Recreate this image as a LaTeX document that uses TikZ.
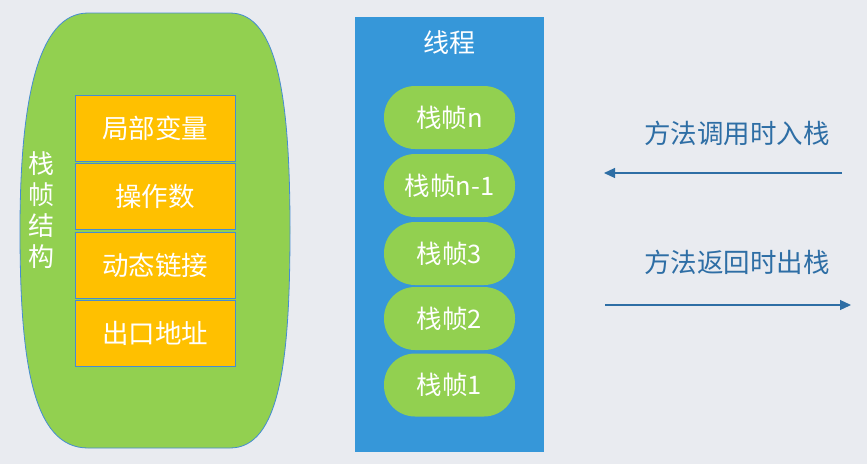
\documentclass[tikz,border=0pt]{standalone}
\usepackage{fontspec}
\newfontfamily\cjk{Noto Sans CJK SC}
\usetikzlibrary{arrows.meta}
\definecolor{bgc}{RGB}{233,235,240}
\definecolor{leafgreen}{RGB}{146,208,80}
\definecolor{boxorange}{RGB}{255,192,0}
\definecolor{threadblue}{RGB}{54,151,217}
\definecolor{edgeblue}{RGB}{70,140,210}
\definecolor{arrowblue}{RGB}{46,110,165}
\tikzset{
  cell/.style={draw=edgeblue, line width=0.8pt, fill=boxorange, minimum width=160pt, minimum height=66pt, inner sep=0pt, text=white, font=\cjk\fontsize{26.5}{30}\selectfont},
  pill/.style={fill=leafgreen, rounded corners=31pt, minimum width=131pt, minimum height=63pt, inner sep=0pt, text=white, font=\cjk\fontsize{25.5}{30}\selectfont},
  note/.style={text=arrowblue, font=\cjk\fontsize{26.5}{30}\selectfont, inner sep=0pt},
  flow/.style={draw=arrowblue, line width=1.1pt, -{Triangle[length=11pt,width=10pt]}}
}
\begin{document}
\begin{tikzpicture}[x=1pt,y=-1pt]
\useasboundingbox (0,0) rectangle (867,464);
\fill[bgc] (0,0) rectangle (867,464);
% frame blob
\draw[edgeblue, line width=0.8pt, fill=leafgreen]
  (88,13) -- (230,13) .. controls (278,13) and (290,100) .. (290,230)
  .. controls (290,360) and (280,448) .. (230,448) -- (88,448)
  .. controls (32,448) and (20,360) .. (20,230)
  .. controls (20,100) and (38,13) .. (88,13) -- cycle;
\node[text=white, font=\cjk\fontsize{26}{31}\selectfont, align=center, inner sep=0pt] (title) at (41,210) {栈\\帧\\结\\构};
\node[cell] (c1) at (155,128) {局部变量};
\node[cell] (c2) at (155,196) {操作数};
\node[cell] (c3) at (155,265) {动态链接};
\node[cell] (c4) at (155,333) {出口地址};
% thread
\node[fill=threadblue, minimum width=189pt, minimum height=435pt, inner sep=0pt] (thread) at (449.5,234.5) {};
\node[text=white, font=\cjk\fontsize{26}{30}\selectfont, inner sep=0pt] (tlabel) at (449.5,43) {线程};
\node[pill] (p1) at (449.5,117.5) {栈帧n};
\node[pill] (p2) at (449.5,185.5) {栈帧n-1};
\node[pill] (p3) at (449.5,253.5) {栈帧3};
\node[pill] (p4) at (449.5,318.5) {栈帧2};
\node[pill] (p5) at (449.5,385) {栈帧1};
% arrows
\node[note] (n1) at (737,133) {方法调用时入栈};
\node[note] (n2) at (737,262) {方法返回时出栈};
\coordinate (a1s) at (842,173);
\coordinate (a1e) at (604,173);
\coordinate (a2s) at (605,305);
\coordinate (a2e) at (851,305);
\draw[flow] (a1s) -- (a1e);
\draw[flow] (a2s) -- (a2e);
\end{tikzpicture}
\end{document}
